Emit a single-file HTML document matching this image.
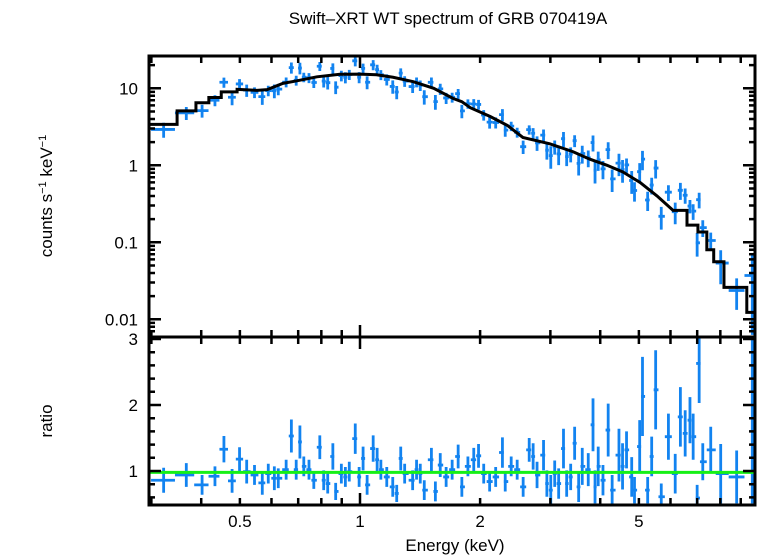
<!DOCTYPE html>
<html><head><meta charset="utf-8"><style>
body{margin:0;background:#fff}
svg{display:block;font-family:"Liberation Sans",sans-serif}
</style></head><body>
<svg id="chart" width="758" height="556" viewBox="0 0 758 556">
<text x="448" y="24" font-size="17" text-anchor="middle">Swift–XRT WT spectrum of GRB 070419A</text>
<text transform="translate(52,196) rotate(-90)" font-size="17" text-anchor="middle">counts s<tspan font-size="11" dy="-6">−1</tspan><tspan dy="6"> keV</tspan><tspan font-size="11" dy="-6">−1</tspan></text>
<text transform="translate(52,421) rotate(-90)" font-size="17" text-anchor="middle">ratio</text>
<text x="455" y="551" font-size="17" text-anchor="middle">Energy (keV)</text>
<g id="g"></g>
</svg>
<script>
// model edges (keV) and model values (counts/s/keV)
const modelE=[0.296,0.348,0.388,0.418,0.449,0.492,0.552,0.585,0.641,0.695,0.78,0.891,1.0,1.10,1.21,1.36,1.53,1.71,1.80,1.89,2.12,2.34,2.56,2.99,3.42,3.77,4.16,4.56,5.03,5.55,6.09,6.60,7.03,7.40,7.70,8.17,9.32];
const modelV=[3.4,5.1,6.5,7.6,9.0,9.7,9.4,9.6,11.6,12.5,14.1,15.2,15.3,15.0,13.9,12.2,10.0,7.4,6.7,5.6,4.3,3.3,2.3,1.9,1.5,1.2,1.0,0.82,0.6,0.4,0.26,0.167,0.136,0.08,0.056,0.026,0.0123];
// data energies (keV), ratio values, ratio errors
const dataE=[0.322,0.367,0.402,0.433,0.456,0.478,0.499,0.520,0.544,0.569,0.589,0.610,0.624,0.653,0.673,0.692,0.707,0.723,0.745,0.766,0.793,0.811,0.830,0.855,0.869,0.898,0.919,0.940,0.973,0.995,1.018,1.042,1.079,1.104,1.128,1.167,1.208,1.236,1.265,1.294,1.355,1.386,1.416,1.449,1.510,1.545,1.589,1.644,1.702,1.762,1.800,1.864,1.928,1.982,2.042,2.113,2.188,2.275,2.312,2.393,2.477,2.564,2.655,2.716,2.778,2.884,2.940,3.007,3.076,3.147,3.236,3.296,3.373,3.451,3.532,3.606,3.733,3.837,3.882,3.954,4.064,4.188,4.285,4.457,4.550,4.656,4.797,4.875,5.023,5.105,5.260,5.383,5.508,5.689,5.929,6.166,6.353,6.531,6.714,6.839,7.080,6.998,7.229,7.569,8.017,8.790,9.62];
const ratio=[0.86,0.94,0.79,0.92,1.33,0.85,1.18,0.99,0.94,0.82,0.96,0.89,0.89,1.02,1.53,1.02,1.44,1.07,1.02,0.86,1.36,0.86,0.81,1.22,0.69,0.96,0.91,0.99,1.49,0.91,1.19,0.79,1.34,1.17,1.02,0.91,0.76,0.66,1.19,0.96,0.86,1.02,0.96,0.71,1.17,0.69,1.09,0.91,1.02,1.22,0.76,1.07,1.17,1.23,0.96,0.84,0.91,1.28,0.84,1.07,1.02,0.76,1.32,1.22,0.94,1.24,0.81,0.71,0.96,0.81,1.34,0.81,0.91,1.42,0.76,1.07,1.02,1.70,0.76,1.07,0.86,1.62,0.71,1.24,1.07,1.32,0.91,0.71,1.37,2.13,0.71,1.22,2.23,0.61,1.52,0.96,1.82,1.57,1.77,1.52,2.63,0.59,1.14,1.32,0.96,0.91,3.01];
const ratioErr=[0.19,0.18,0.15,0.15,0.2,0.18,0.18,0.18,0.15,0.18,0.15,0.18,0.15,0.15,0.25,0.15,0.25,0.15,0.15,0.13,0.18,0.15,0.15,0.2,0.13,0.15,0.15,0.15,0.23,0.15,0.18,0.15,0.2,0.18,0.15,0.15,0.15,0.13,0.18,0.15,0.15,0.15,0.15,0.15,0.18,0.15,0.18,0.15,0.15,0.18,0.15,0.15,0.18,0.18,0.15,0.15,0.15,0.23,0.15,0.15,0.15,0.15,0.18,0.2,0.2,0.23,0.2,0.23,0.2,0.23,0.3,0.2,0.2,0.25,0.23,0.28,0.25,0.4,0.25,0.3,0.23,0.4,0.23,0.4,0.35,0.28,0.3,0.2,0.4,0.6,0.2,0.3,0.6,0.2,0.35,0.3,0.45,0.35,0.35,0.35,0.6,0.2,0.28,0.35,0.45,0.4,2.5];
const xTickLabels=["0.5","1","2","5"];
const xTickVals=[0.5,1,2,5];
const yTickLabels=["0.01","0.1","1","10"];
const yTickVals=[0.01,0.1,1,10];
const rTickLabels=["1","2","3"];
const rTickVals=[1,2,3];

const L=149,R=755,T=56,M=337,B=505;
const sx=e=>360+399*Math.log10(e);
const sy=v=>88.3+77*(1-Math.log10(v));
const sr=r=>471-66*(r-1);
const g=document.getElementById('g');
const NS="http://www.w3.org/2000/svg";
function mk(tag,attrs,parent){const el=document.createElementNS(NS,tag);for(const k in attrs)el.setAttribute(k,attrs[k]);(parent||g).appendChild(el);return el;}
const nStepLo=5, nStepHi=30;
function modelAt(e){
  let i=0;while(i<modelE.length-1&&e>=modelE[i+1])i++;
  if(i<nStepLo||i>=nStepHi||i>=modelE.length-1)return modelV[i];
  const t=(Math.log(e)-Math.log(modelE[i]))/(Math.log(modelE[i+1])-Math.log(modelE[i]));
  return Math.exp(Math.log(modelV[i])*(1-t)+Math.log(modelV[i+1])*t);
}
const clipT=mk('clipPath',{id:'ct'});mk('rect',{x:L,y:T,width:R-L,height:M-T},clipT);
const clipB=mk('clipPath',{id:'cb'});mk('rect',{x:L,y:M,width:R-L,height:B-M},clipB);
const blue="#1283f0";
const dTop=mk('g',{'clip-path':'url(#ct)',stroke:blue,'stroke-width':2.8,fill:'none'});


const dBot=mk('g',{'clip-path':'url(#cb)',stroke:blue,'stroke-width':2.8,fill:'none'});


for(let i=0;i<dataE.length;i++){
  const e=dataE[i];
  const lo=i>0?Math.sqrt(dataE[i-1]*e):e*0.93;
  const hi=i<dataE.length-1?Math.sqrt(dataE[i+1]*e):e*1.04;
  const x=sx(e),x1=Math.min(sx(lo),x-1.5),x2=Math.max(sx(hi),x+1.5);
  const r=ratio[i],er=ratioErr[i],m=modelAt(e);
  const yv=sy(m*r),ylo=sy(Math.max(m*(r-er),1e-4)),yhi=sy(m*(r+er));
  const p1=mk('path',{d:`M${x1},${yv}H${x2}M${x},${yhi}V${ylo}`},dTop);
  
  
  const p2=mk('path',{d:`M${x1},${sr(r)}H${x2}M${x},${sr(r+er)}V${sr(r-er)}`},dBot);
  
  
}
let d=`M${L},${sy(modelV[0])}`;
for(let i=1;i<modelE.length;i++){
  if(i<=nStepLo||i>nStepHi){d+=`H${sx(modelE[i])}V${sy(modelV[i])}`;}
  else{d+=`L${sx(modelE[i])},${sy(modelV[i])}`;}
}
d+=`H${R}`;
const ml=mk('path',{d:d,stroke:'#000','stroke-width':3,fill:'none','clip-path':'url(#ct)'});


const ref=mk('line',{x1:L,x2:R,y1:sr(0.98),y2:sr(0.98),stroke:'#16f016','stroke-width':3});


const fr=mk('path',{d:`M${L},${T}H${R}V${B}H${L}ZM${L},${M}H${R}`,stroke:'#000','stroke-width':3,fill:'none'});


let td='';
const minorX=[0.3,0.4,0.5,0.6,0.7,0.8,0.9,2,3,4,5,6,7,8,9];
for(const e of minorX){const x=sx(e);td+=`M${x},${T}v7M${x},${M}v-7M${x},${M}v7M${x},${B}v-7`;}
const x1=sx(1);td+=`M${x1},${T}v12M${x1},${M-12}v24M${x1},${B}v-12`;
for(let dec=-3;dec<=1;dec++)for(let k=1;k<10;k++){const v=k*Math.pow(10,dec);const y=sy(v);if(y<T+1||y>M-1)continue;const len=k===1?12:6;td+=`M${L},${y}h${len}M${R},${y}h-${len}`;}
for(let r=0.6;r<3.05;r+=0.2){const y=sr(r);const maj=Math.abs(r-Math.round(r))<0.01;const len=maj?12:6;td+=`M${L},${y}h${len}M${R},${y}h-${len}`;}
const tk=mk('path',{d:td,stroke:'#000','stroke-width':2.5,fill:'none'});


xTickLabels.forEach((s,i)=>{const t=mk('text',{x:sx(xTickVals[i]),y:527,'font-size':17,'text-anchor':'middle'});t.textContent=s;

});
yTickLabels.forEach((s,i)=>{const t=mk('text',{x:138,y:sy(yTickVals[i])+6,'font-size':17,'text-anchor':'end'});t.textContent=s;

});
rTickLabels.forEach((s,i)=>{const t=mk('text',{x:138,y:sr(rTickVals[i])+6,'font-size':17,'text-anchor':'end'});t.textContent=s;

});
</script>
</body></html>
